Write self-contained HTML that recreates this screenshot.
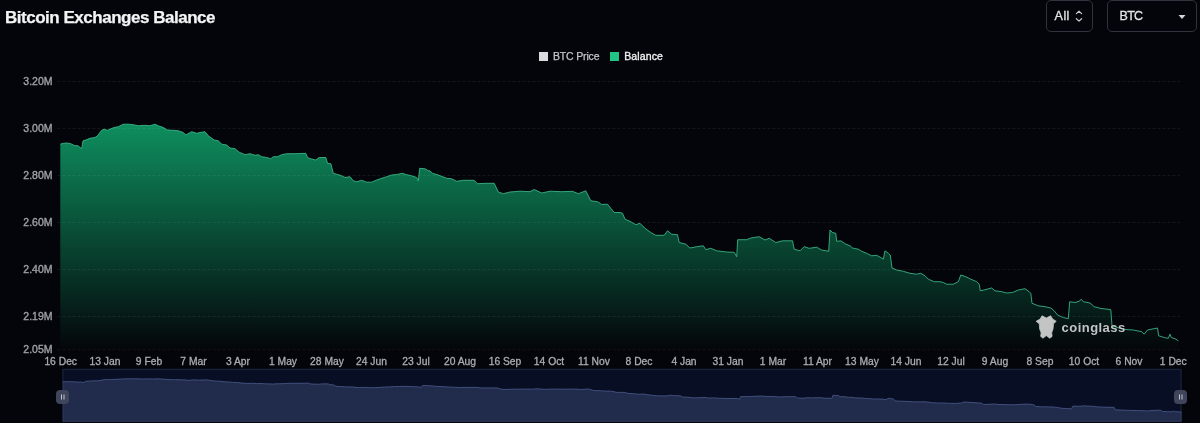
<!DOCTYPE html>
<html lang="en">
<head>
<meta charset="utf-8">
<title>Bitcoin Exchanges Balance</title>
<style>
html,body{margin:0;padding:0;background:#04050a;}
body{width:1200px;height:423px;overflow:hidden;position:relative;font-family:"Liberation Sans",sans-serif;}
#title{position:absolute;left:5px;top:6.7px;font-size:17px;font-weight:bold;color:#f4f4f4;white-space:nowrap;letter-spacing:-0.48px;line-height:22px;-webkit-text-stroke:0.25px #f4f4f4;}
.sel{position:absolute;top:0;height:30px;border:1px solid #30333d;border-radius:5px;box-sizing:content-box;color:#e4e4e6;font-size:12.5px;line-height:30px;-webkit-text-stroke:0.3px #e4e4e6;}
.sel span{position:absolute;top:0;}
#legend div{position:absolute;font-size:10.5px;line-height:12px;white-space:nowrap;}
#legend i{position:absolute;width:9px;height:9px;top:52.3px;display:block;}
svg{position:absolute;left:0;top:0;}
.g{stroke:rgba(255,255,255,0.065);stroke-width:1;stroke-dasharray:3 2;}
.yl{font-size:10.5px;fill:#a0a1a7;text-anchor:end;stroke:#a0a1a7;stroke-width:0.35;}
.xl{font-size:10.3px;fill:#abacb2;text-anchor:middle;stroke:#abacb2;stroke-width:0.3;}
</style>
</head>
<body>
<div id="title">Bitcoin Exchanges Balance</div>
<div class="sel" style="left:1046px;width:45.4px;"><span style="left:7.6px;letter-spacing:0.45px;">All</span>
<svg width="10" height="14" viewBox="0 0 10 14" style="left:27px;top:9px;"><path d="M2.4 3.6 L5 1.2 L7.6 3.6 M2.4 8.7 L5 11.1 L7.6 8.7" fill="none" stroke="#c9c9cc" stroke-width="1.25" stroke-linecap="round" stroke-linejoin="round"/></svg></div>
<div class="sel" style="left:1107px;width:88px;"><span style="left:11.5px;letter-spacing:-0.7px;">BTC</span>
<svg width="8" height="6" viewBox="0 0 8 6" style="left:69.7px;top:13px;"><path d="M0.5 0.9 H7.5 L4 4.9 Z" fill="#d6d6d9"/></svg></div>
<div id="legend">
<i style="left:539px;background:#d9dadc;"></i><div style="left:553px;top:50.2px;color:#c4c5c9;letter-spacing:-0.17px;-webkit-text-stroke:0.25px #c4c5c9;">BTC Price</div>
<i style="left:610.2px;background:#20c685;"></i><div style="left:624.2px;top:50.2px;color:#f0f0f2;letter-spacing:0.12px;-webkit-text-stroke:0.35px #f0f0f2;">Balance</div>
</div>
<svg width="1200" height="423" viewBox="0 0 1200 423" font-family="Liberation Sans, sans-serif">
<defs>
<linearGradient id="ag" gradientUnits="userSpaceOnUse" x1="0" y1="123" x2="0" y2="349">
<stop offset="0" stop-color="rgb(14,143,95)"/>
<stop offset="1" stop-color="rgb(4,6,10)"/>
</linearGradient>
</defs>
<path d="M60.3,144.2 L63.3,143.3 L67.5,143.0 L70.8,143.7 L75.0,145.8 L77.5,145.5 L81.7,148.7 L83.0,140.8 L85.8,140.0 L90.0,138.3 L95.0,137.5 L97.5,135.8 L101.7,130.3 L104.2,129.2 L107.5,130.3 L110.8,128.7 L114.2,127.5 L118.3,126.7 L123.3,124.2 L128.3,124.2 L133.3,124.7 L138.3,125.8 L144.2,125.3 L150.0,125.8 L155.0,124.2 L158.3,125.8 L163.3,127.5 L167.5,130.0 L173.3,130.3 L178.3,130.8 L183.3,132.5 L185.8,135.0 L191.7,131.7 L196.7,133.3 L200.0,132.5 L205.0,131.7 L208.3,135.8 L210.8,137.5 L214.2,140.0 L218.3,140.8 L221.7,144.2 L226.7,145.0 L230.0,148.0 L235.0,148.7 L239.2,152.2 L245.0,154.7 L250.0,153.7 L255.0,155.3 L258.3,154.7 L261.7,156.7 L266.7,157.5 L270.8,158.7 L273.3,156.7 L277.5,156.7 L281.7,154.7 L286.7,153.7 L295.0,153.7 L305.8,153.3 L307.5,157.5 L310.8,158.8 L315.8,160.0 L319.2,157.5 L325.8,157.5 L327.5,163.3 L330.8,163.7 L333.3,173.3 L336.7,174.2 L341.7,175.8 L345.0,177.5 L350.0,176.7 L353.3,180.8 L356.7,181.7 L361.7,180.3 L366.7,182.2 L371.7,182.2 L376.7,180.0 L381.7,178.3 L386.7,176.7 L391.7,175.0 L396.7,174.5 L402.5,173.3 L406.7,174.7 L411.7,175.8 L416.7,177.5 L418.3,180.8 L419.7,168.3 L425.0,168.8 L428.3,170.8 L430.0,170.8 L432.5,173.3 L438.3,175.0 L446.7,178.3 L451.7,178.8 L456.7,181.3 L463.3,180.3 L474.2,180.3 L477.5,183.7 L486.7,183.3 L494.2,183.3 L498.3,192.0 L503.3,193.7 L510.0,192.0 L520.0,191.2 L530.0,191.7 L534.2,189.5 L541.7,193.0 L550.0,191.2 L561.7,191.7 L572.5,191.3 L578.3,193.7 L585.8,190.8 L590.8,200.8 L597.5,201.7 L601.7,204.5 L607.5,204.2 L614.2,212.5 L620.0,212.5 L622.5,213.3 L625.0,219.2 L630.0,221.3 L635.8,224.7 L640.0,223.3 L645.0,228.3 L650.8,232.5 L655.8,235.3 L664.2,235.3 L667.5,230.8 L671.7,234.2 L677.5,234.7 L679.2,242.5 L685.8,244.2 L690.0,248.0 L696.7,246.7 L703.3,245.8 L705.8,249.7 L710.8,248.3 L716.7,250.8 L726.7,252.0 L734.2,252.3 L736.7,256.7 L737.7,239.7 L746.7,239.7 L750.8,238.0 L759.2,236.7 L765.0,240.0 L769.2,238.3 L775.8,242.5 L782.5,240.8 L792.5,240.8 L794.2,249.2 L800.0,250.8 L804.2,246.7 L809.2,248.3 L816.7,247.2 L821.7,250.0 L828.7,251.3 L830.0,230.0 L832.5,232.5 L835.8,233.3 L836.7,241.3 L840.8,240.8 L845.8,244.2 L850.0,245.8 L852.5,248.0 L858.3,249.2 L861.7,251.3 L866.7,253.3 L871.7,255.8 L876.7,255.3 L880.8,257.5 L883.3,259.2 L885.0,250.8 L888.3,253.3 L890.3,255.0 L892.0,268.0 L896.7,270.0 L903.3,271.3 L910.0,273.3 L916.7,274.2 L920.8,273.3 L925.0,275.8 L928.3,279.2 L934.2,281.7 L940.0,281.7 L943.3,282.5 L946.7,284.2 L953.3,284.2 L958.3,281.7 L960.8,275.0 L965.8,276.7 L970.8,279.2 L976.7,281.7 L979.2,284.2 L980.3,290.8 L985.0,289.7 L991.7,288.0 L995.0,290.8 L1001.7,291.7 L1006.7,293.0 L1012.5,292.5 L1018.3,290.0 L1025.0,288.7 L1029.2,291.7 L1030.8,293.3 L1032.0,303.3 L1038.3,305.8 L1045.0,306.7 L1050.8,308.0 L1054.2,310.8 L1057.5,315.0 L1063.3,317.5 L1068.3,318.7 L1069.7,301.7 L1075.0,302.5 L1079.2,301.3 L1081.2,299.2 L1083.3,301.7 L1090.0,303.0 L1094.2,306.7 L1100.0,308.3 L1110.8,309.7 L1112.0,325.8 L1118.0,327.7 L1125.9,329.5 L1133.3,330.0 L1141.7,331.7 L1144.2,334.2 L1147.5,330.0 L1157.5,328.0 L1158.7,335.8 L1164.2,337.5 L1168.3,338.3 L1170.0,334.2 L1171.3,337.5 L1175.0,338.7 L1178.3,340.8 L1178.3,349.6 L60.3,349.6 Z" fill="url(#ag)"/>
<line x1="57.5" x2="1180" y1="81.5" y2="81.5" class="g"/>
<line x1="57.5" x2="1180" y1="128.5" y2="128.5" class="g"/>
<line x1="57.5" x2="1180" y1="175.5" y2="175.5" class="g"/>
<line x1="57.5" x2="1180" y1="222.5" y2="222.5" class="g"/>
<line x1="57.5" x2="1180" y1="269.5" y2="269.5" class="g"/>
<line x1="57.5" x2="1180" y1="316.5" y2="316.5" class="g"/>
<line x1="57.5" x2="1180" y1="349.9" y2="349.9" class="g"/>
<path d="M60.3,144.2 L63.3,143.3 L67.5,143.0 L70.8,143.7 L75.0,145.8 L77.5,145.5 L81.7,148.7 L83.0,140.8 L85.8,140.0 L90.0,138.3 L95.0,137.5 L97.5,135.8 L101.7,130.3 L104.2,129.2 L107.5,130.3 L110.8,128.7 L114.2,127.5 L118.3,126.7 L123.3,124.2 L128.3,124.2 L133.3,124.7 L138.3,125.8 L144.2,125.3 L150.0,125.8 L155.0,124.2 L158.3,125.8 L163.3,127.5 L167.5,130.0 L173.3,130.3 L178.3,130.8 L183.3,132.5 L185.8,135.0 L191.7,131.7 L196.7,133.3 L200.0,132.5 L205.0,131.7 L208.3,135.8 L210.8,137.5 L214.2,140.0 L218.3,140.8 L221.7,144.2 L226.7,145.0 L230.0,148.0 L235.0,148.7 L239.2,152.2 L245.0,154.7 L250.0,153.7 L255.0,155.3 L258.3,154.7 L261.7,156.7 L266.7,157.5 L270.8,158.7 L273.3,156.7 L277.5,156.7 L281.7,154.7 L286.7,153.7 L295.0,153.7 L305.8,153.3 L307.5,157.5 L310.8,158.8 L315.8,160.0 L319.2,157.5 L325.8,157.5 L327.5,163.3 L330.8,163.7 L333.3,173.3 L336.7,174.2 L341.7,175.8 L345.0,177.5 L350.0,176.7 L353.3,180.8 L356.7,181.7 L361.7,180.3 L366.7,182.2 L371.7,182.2 L376.7,180.0 L381.7,178.3 L386.7,176.7 L391.7,175.0 L396.7,174.5 L402.5,173.3 L406.7,174.7 L411.7,175.8 L416.7,177.5 L418.3,180.8 L419.7,168.3 L425.0,168.8 L428.3,170.8 L430.0,170.8 L432.5,173.3 L438.3,175.0 L446.7,178.3 L451.7,178.8 L456.7,181.3 L463.3,180.3 L474.2,180.3 L477.5,183.7 L486.7,183.3 L494.2,183.3 L498.3,192.0 L503.3,193.7 L510.0,192.0 L520.0,191.2 L530.0,191.7 L534.2,189.5 L541.7,193.0 L550.0,191.2 L561.7,191.7 L572.5,191.3 L578.3,193.7 L585.8,190.8 L590.8,200.8 L597.5,201.7 L601.7,204.5 L607.5,204.2 L614.2,212.5 L620.0,212.5 L622.5,213.3 L625.0,219.2 L630.0,221.3 L635.8,224.7 L640.0,223.3 L645.0,228.3 L650.8,232.5 L655.8,235.3 L664.2,235.3 L667.5,230.8 L671.7,234.2 L677.5,234.7 L679.2,242.5 L685.8,244.2 L690.0,248.0 L696.7,246.7 L703.3,245.8 L705.8,249.7 L710.8,248.3 L716.7,250.8 L726.7,252.0 L734.2,252.3 L736.7,256.7 L737.7,239.7 L746.7,239.7 L750.8,238.0 L759.2,236.7 L765.0,240.0 L769.2,238.3 L775.8,242.5 L782.5,240.8 L792.5,240.8 L794.2,249.2 L800.0,250.8 L804.2,246.7 L809.2,248.3 L816.7,247.2 L821.7,250.0 L828.7,251.3 L830.0,230.0 L832.5,232.5 L835.8,233.3 L836.7,241.3 L840.8,240.8 L845.8,244.2 L850.0,245.8 L852.5,248.0 L858.3,249.2 L861.7,251.3 L866.7,253.3 L871.7,255.8 L876.7,255.3 L880.8,257.5 L883.3,259.2 L885.0,250.8 L888.3,253.3 L890.3,255.0 L892.0,268.0 L896.7,270.0 L903.3,271.3 L910.0,273.3 L916.7,274.2 L920.8,273.3 L925.0,275.8 L928.3,279.2 L934.2,281.7 L940.0,281.7 L943.3,282.5 L946.7,284.2 L953.3,284.2 L958.3,281.7 L960.8,275.0 L965.8,276.7 L970.8,279.2 L976.7,281.7 L979.2,284.2 L980.3,290.8 L985.0,289.7 L991.7,288.0 L995.0,290.8 L1001.7,291.7 L1006.7,293.0 L1012.5,292.5 L1018.3,290.0 L1025.0,288.7 L1029.2,291.7 L1030.8,293.3 L1032.0,303.3 L1038.3,305.8 L1045.0,306.7 L1050.8,308.0 L1054.2,310.8 L1057.5,315.0 L1063.3,317.5 L1068.3,318.7 L1069.7,301.7 L1075.0,302.5 L1079.2,301.3 L1081.2,299.2 L1083.3,301.7 L1090.0,303.0 L1094.2,306.7 L1100.0,308.3 L1110.8,309.7 L1112.0,325.8 L1118.0,327.7 L1125.9,329.5 L1133.3,330.0 L1141.7,331.7 L1144.2,334.2 L1147.5,330.0 L1157.5,328.0 L1158.7,335.8 L1164.2,337.5 L1168.3,338.3 L1170.0,334.2 L1171.3,337.5 L1175.0,338.7 L1178.3,340.8" fill="none" stroke="#3cba8a" stroke-width="1" stroke-opacity="0.85" stroke-linejoin="round"/>
<text x="52.5" y="85.3" class="yl">3.20M</text>
<text x="52.5" y="132.3" class="yl">3.00M</text>
<text x="52.5" y="179.3" class="yl">2.80M</text>
<text x="52.5" y="226.3" class="yl">2.60M</text>
<text x="52.5" y="273.3" class="yl">2.40M</text>
<text x="52.5" y="320.3" class="yl">2.19M</text>
<text x="52.5" y="353.3" class="yl">2.05M</text>
<text x="60.7" y="365.1" class="xl">16 Dec</text>
<text x="105" y="365.1" class="xl">13 Jan</text>
<text x="149" y="365.1" class="xl">9 Feb</text>
<text x="193.5" y="365.1" class="xl">7 Mar</text>
<text x="238" y="365.1" class="xl">3 Apr</text>
<text x="283" y="365.1" class="xl">1 May</text>
<text x="327" y="365.1" class="xl">28 May</text>
<text x="371.5" y="365.1" class="xl">24 Jun</text>
<text x="416" y="365.1" class="xl">23 Jul</text>
<text x="460" y="365.1" class="xl">20 Aug</text>
<text x="505" y="365.1" class="xl">16 Sep</text>
<text x="549" y="365.1" class="xl">14 Oct</text>
<text x="594" y="365.1" class="xl">11 Nov</text>
<text x="639" y="365.1" class="xl">8 Dec</text>
<text x="684" y="365.1" class="xl">4 Jan</text>
<text x="728" y="365.1" class="xl">31 Jan</text>
<text x="773" y="365.1" class="xl">1 Mar</text>
<text x="817.5" y="365.1" class="xl">11 Apr</text>
<text x="862" y="365.1" class="xl">13 May</text>
<text x="906" y="365.1" class="xl">14 Jun</text>
<text x="951" y="365.1" class="xl">12 Jul</text>
<text x="995" y="365.1" class="xl">9 Aug</text>
<text x="1040" y="365.1" class="xl">8 Sep</text>
<text x="1084" y="365.1" class="xl">10 Oct</text>
<text x="1129" y="365.1" class="xl">6 Nov</text>
<text x="1173.3" y="365.1" class="xl">1 Dec</text>
<rect x="62.4" y="368.8" width="1119.1999999999998" height="53.0" fill="#080f25"/>
<path d="M62.7,381.8 L65.7,381.7 L69.9,381.7 L73.2,381.8 L77.4,382.1 L79.9,382.0 L84.1,382.5 L85.4,381.3 L88.2,381.2 L92.4,380.9 L97.4,380.8 L99.9,380.6 L104.1,379.7 L106.6,379.5 L109.9,379.7 L113.2,379.5 L116.6,379.3 L120.8,379.1 L125.8,378.8 L130.8,378.8 L135.8,378.8 L140.8,379.0 L146.7,378.9 L152.5,379.0 L157.5,378.8 L160.8,379.0 L165.8,379.3 L170.0,379.7 L175.8,379.7 L180.8,379.8 L185.8,380.0 L188.3,380.4 L194.2,379.9 L199.2,380.2 L202.5,380.0 L207.5,379.9 L210.8,380.6 L213.3,380.8 L216.7,381.2 L220.8,381.3 L224.2,381.8 L229.2,382.0 L232.6,382.4 L237.6,382.5 L241.8,383.1 L247.6,383.5 L252.6,383.3 L257.6,383.6 L260.9,383.5 L264.3,383.8 L269.3,383.9 L273.4,384.1 L275.9,383.8 L280.1,383.8 L284.3,383.5 L289.3,383.3 L297.6,383.3 L308.4,383.2 L310.1,383.9 L313.4,384.1 L318.4,384.3 L321.8,383.9 L328.4,383.9 L330.1,384.8 L333.4,384.9 L335.9,386.3 L339.3,386.5 L344.4,386.7 L347.7,387.0 L352.7,386.9 L356.0,387.5 L359.4,387.6 L364.4,387.4 L369.4,387.7 L374.4,387.7 L379.4,387.4 L384.4,387.1 L389.4,386.9 L394.4,386.6 L399.4,386.5 L405.2,386.3 L409.4,386.5 L414.4,386.7 L419.4,387.0 L421.0,387.5 L422.4,385.6 L427.7,385.6 L431.0,385.9 L432.7,385.9 L435.2,386.3 L441.0,386.6 L449.4,387.1 L454.5,387.2 L459.5,387.6 L466.1,387.4 L477.0,387.4 L480.3,387.9 L489.5,387.9 L497.0,387.9 L501.1,389.2 L506.1,389.5 L512.8,389.2 L522.8,389.1 L532.8,389.2 L537.0,388.8 L544.5,389.4 L552.8,389.1 L564.5,389.2 L575.4,389.1 L581.2,389.5 L588.7,389.0 L593.7,390.6 L600.4,390.7 L604.6,391.1 L610.4,391.1 L617.1,392.4 L622.9,392.4 L625.4,392.5 L627.9,393.4 L632.9,393.7 L638.7,394.3 L642.9,394.0 L647.9,394.8 L653.7,395.5 L658.7,395.9 L667.1,395.9 L670.4,395.2 L674.6,395.7 L680.5,395.8 L682.2,397.0 L688.8,397.3 L693.0,397.9 L699.7,397.7 L706.3,397.5 L708.8,398.1 L713.8,397.9 L719.7,398.3 L729.7,398.5 L737.2,398.5 L739.7,399.2 L740.7,396.6 L749.7,396.6 L753.8,396.3 L762.2,396.1 L768.0,396.6 L772.2,396.4 L778.8,397.0 L785.5,396.7 L795.6,396.7 L797.3,398.0 L803.1,398.3 L807.3,397.7 L812.3,397.9 L819.8,397.7 L824.8,398.2 L831.8,398.4 L833.1,395.1 L835.6,395.5 L838.9,395.6 L839.8,396.8 L843.9,396.7 L848.9,397.3 L853.1,397.5 L855.6,397.9 L861.4,398.0 L864.8,398.4 L869.8,398.7 L874.8,399.1 L879.8,399.0 L883.9,399.3 L886.4,399.6 L888.1,398.3 L891.4,398.7 L893.4,398.9 L895.1,400.9 L899.8,401.2 L906.5,401.4 L913.2,401.8 L919.9,401.9 L924.0,401.8 L928.2,402.1 L931.5,402.7 L937.4,403.0 L943.2,403.0 L946.5,403.2 L949.9,403.4 L956.5,403.4 L961.5,403.0 L964.0,402.0 L969.0,402.3 L974.0,402.7 L979.9,403.0 L982.4,403.4 L983.5,404.5 L988.2,404.3 L994.9,404.0 L998.2,404.5 L1004.9,404.6 L1009.9,404.8 L1015.8,404.7 L1021.6,404.3 L1028.3,404.1 L1032.5,404.6 L1034.1,404.8 L1035.3,406.4 L1041.6,406.8 L1048.3,406.9 L1054.1,407.1 L1057.5,407.5 L1060.8,408.2 L1066.6,408.6 L1071.6,408.8 L1073.0,406.1 L1078.3,406.3 L1082.5,406.1 L1084.5,405.7 L1086.6,406.1 L1093.3,406.3 L1097.5,406.9 L1103.3,407.2 L1114.1,407.4 L1115.3,409.8 L1121.3,410.1 L1129.3,410.4 L1136.7,410.5 L1145.1,410.8 L1147.6,411.1 L1150.9,410.5 L1160.9,410.2 L1162.1,411.4 L1167.6,411.7 L1171.7,411.8 L1173.4,411.1 L1174.7,411.7 L1178.4,411.8 L1181.7,412.2 L1181.7,421.8 L62.7,421.8 Z" fill="#212b4b"/>
<path d="M62.7,381.8 L65.7,381.7 L69.9,381.7 L73.2,381.8 L77.4,382.1 L79.9,382.0 L84.1,382.5 L85.4,381.3 L88.2,381.2 L92.4,380.9 L97.4,380.8 L99.9,380.6 L104.1,379.7 L106.6,379.5 L109.9,379.7 L113.2,379.5 L116.6,379.3 L120.8,379.1 L125.8,378.8 L130.8,378.8 L135.8,378.8 L140.8,379.0 L146.7,378.9 L152.5,379.0 L157.5,378.8 L160.8,379.0 L165.8,379.3 L170.0,379.7 L175.8,379.7 L180.8,379.8 L185.8,380.0 L188.3,380.4 L194.2,379.9 L199.2,380.2 L202.5,380.0 L207.5,379.9 L210.8,380.6 L213.3,380.8 L216.7,381.2 L220.8,381.3 L224.2,381.8 L229.2,382.0 L232.6,382.4 L237.6,382.5 L241.8,383.1 L247.6,383.5 L252.6,383.3 L257.6,383.6 L260.9,383.5 L264.3,383.8 L269.3,383.9 L273.4,384.1 L275.9,383.8 L280.1,383.8 L284.3,383.5 L289.3,383.3 L297.6,383.3 L308.4,383.2 L310.1,383.9 L313.4,384.1 L318.4,384.3 L321.8,383.9 L328.4,383.9 L330.1,384.8 L333.4,384.9 L335.9,386.3 L339.3,386.5 L344.4,386.7 L347.7,387.0 L352.7,386.9 L356.0,387.5 L359.4,387.6 L364.4,387.4 L369.4,387.7 L374.4,387.7 L379.4,387.4 L384.4,387.1 L389.4,386.9 L394.4,386.6 L399.4,386.5 L405.2,386.3 L409.4,386.5 L414.4,386.7 L419.4,387.0 L421.0,387.5 L422.4,385.6 L427.7,385.6 L431.0,385.9 L432.7,385.9 L435.2,386.3 L441.0,386.6 L449.4,387.1 L454.5,387.2 L459.5,387.6 L466.1,387.4 L477.0,387.4 L480.3,387.9 L489.5,387.9 L497.0,387.9 L501.1,389.2 L506.1,389.5 L512.8,389.2 L522.8,389.1 L532.8,389.2 L537.0,388.8 L544.5,389.4 L552.8,389.1 L564.5,389.2 L575.4,389.1 L581.2,389.5 L588.7,389.0 L593.7,390.6 L600.4,390.7 L604.6,391.1 L610.4,391.1 L617.1,392.4 L622.9,392.4 L625.4,392.5 L627.9,393.4 L632.9,393.7 L638.7,394.3 L642.9,394.0 L647.9,394.8 L653.7,395.5 L658.7,395.9 L667.1,395.9 L670.4,395.2 L674.6,395.7 L680.5,395.8 L682.2,397.0 L688.8,397.3 L693.0,397.9 L699.7,397.7 L706.3,397.5 L708.8,398.1 L713.8,397.9 L719.7,398.3 L729.7,398.5 L737.2,398.5 L739.7,399.2 L740.7,396.6 L749.7,396.6 L753.8,396.3 L762.2,396.1 L768.0,396.6 L772.2,396.4 L778.8,397.0 L785.5,396.7 L795.6,396.7 L797.3,398.0 L803.1,398.3 L807.3,397.7 L812.3,397.9 L819.8,397.7 L824.8,398.2 L831.8,398.4 L833.1,395.1 L835.6,395.5 L838.9,395.6 L839.8,396.8 L843.9,396.7 L848.9,397.3 L853.1,397.5 L855.6,397.9 L861.4,398.0 L864.8,398.4 L869.8,398.7 L874.8,399.1 L879.8,399.0 L883.9,399.3 L886.4,399.6 L888.1,398.3 L891.4,398.7 L893.4,398.9 L895.1,400.9 L899.8,401.2 L906.5,401.4 L913.2,401.8 L919.9,401.9 L924.0,401.8 L928.2,402.1 L931.5,402.7 L937.4,403.0 L943.2,403.0 L946.5,403.2 L949.9,403.4 L956.5,403.4 L961.5,403.0 L964.0,402.0 L969.0,402.3 L974.0,402.7 L979.9,403.0 L982.4,403.4 L983.5,404.5 L988.2,404.3 L994.9,404.0 L998.2,404.5 L1004.9,404.6 L1009.9,404.8 L1015.8,404.7 L1021.6,404.3 L1028.3,404.1 L1032.5,404.6 L1034.1,404.8 L1035.3,406.4 L1041.6,406.8 L1048.3,406.9 L1054.1,407.1 L1057.5,407.5 L1060.8,408.2 L1066.6,408.6 L1071.6,408.8 L1073.0,406.1 L1078.3,406.3 L1082.5,406.1 L1084.5,405.7 L1086.6,406.1 L1093.3,406.3 L1097.5,406.9 L1103.3,407.2 L1114.1,407.4 L1115.3,409.8 L1121.3,410.1 L1129.3,410.4 L1136.7,410.5 L1145.1,410.8 L1147.6,411.1 L1150.9,410.5 L1160.9,410.2 L1162.1,411.4 L1167.6,411.7 L1171.7,411.8 L1173.4,411.1 L1174.7,411.7 L1178.4,411.8 L1181.7,412.2" fill="none" stroke="#414f7c" stroke-width="1"/>
<rect x="62.9" y="369.3" width="1118.1999999999998" height="52.0" fill="none" stroke="#5a678f" stroke-opacity="0.28"/>
<g id="hl"><rect x="56" y="390" width="13" height="14" rx="4" fill="#3f455b"/><path d="M61.5 394.5v5M64 394.5v5" stroke="#c2c5cf" stroke-width="1"/></g>
<g id="hr"><rect x="1174" y="390" width="13" height="14" rx="4" fill="#3f455b"/><path d="M1179.5 394.5v5M1182 394.5v5" stroke="#c2c5cf" stroke-width="1"/></g>
<g id="wm" fill="#c3c5c5">
<path d="M1042 315.8 L1046.3 318 L1050.7 315.8 L1052.6 319 L1056.2 321.3 L1053.5 323.8 L1053 329.1 L1051.7 332.7 L1052.1 336.4 L1049.8 338.2 L1046.3 335.6 L1043 338.2 L1040.7 336.4 L1041.1 332.7 L1039.7 329.1 L1039.3 323.8 L1036.1 321.3 L1040.2 319 Z" stroke="#c3c5c5" stroke-width="0.8" stroke-linejoin="round"/>
<text id="wmt" x="1061.6" y="331.7" font-size="13" font-weight="bold" textLength="63.6" lengthAdjust="spacing">coinglass</text>
</g>
</svg>
</body>
</html>
